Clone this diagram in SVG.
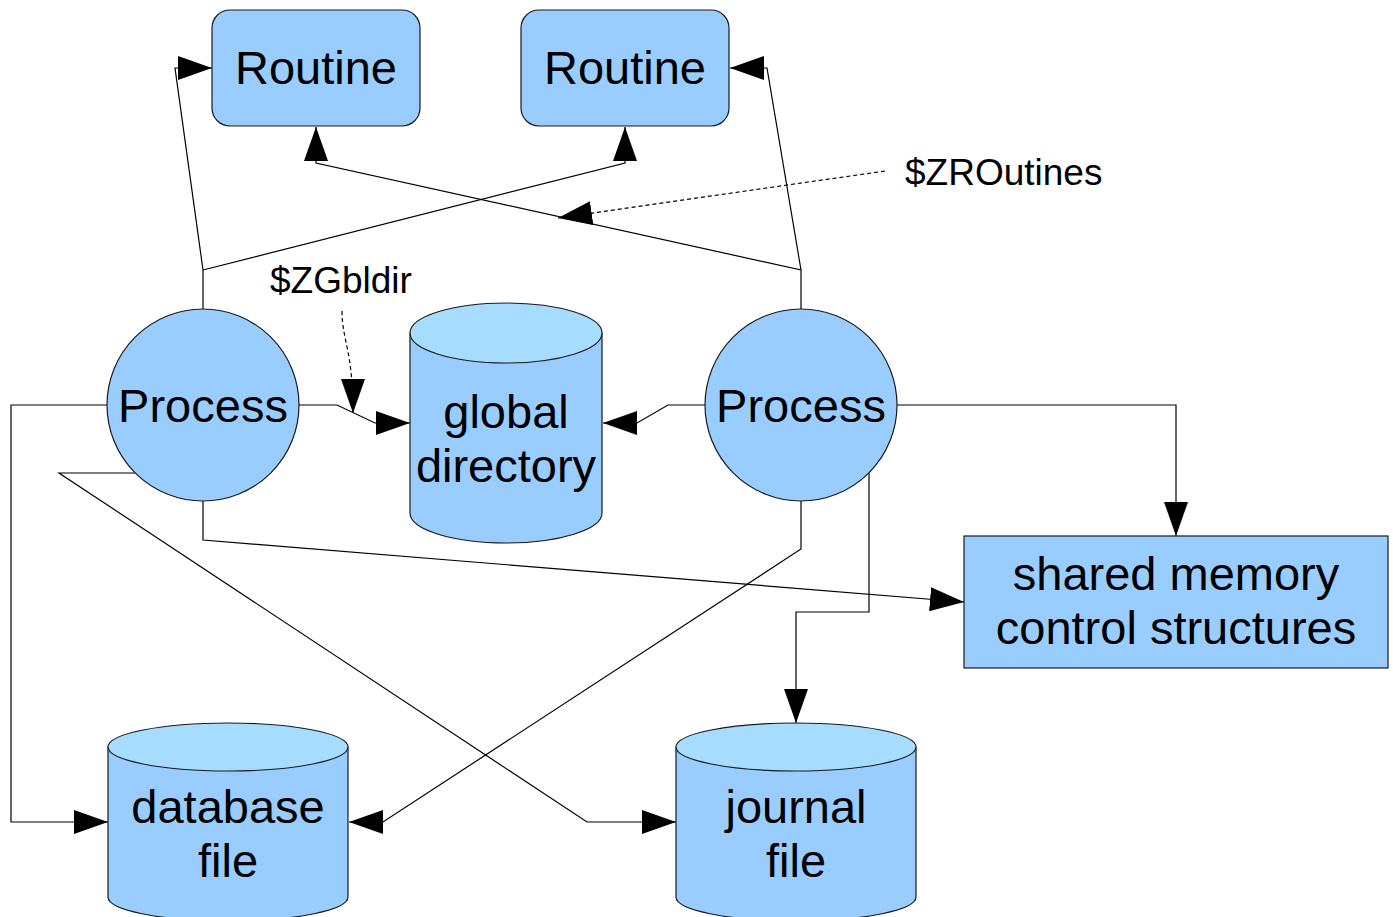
<svg xmlns="http://www.w3.org/2000/svg" width="1393" height="917" viewBox="0 0 1393 917">
<defs>
<style>
.shape{fill:#99ccff;stroke:#1a1a1a;stroke-width:1.2}
.top{fill:#a6ddff;stroke:#1a1a1a;stroke-width:1.2}
.lbl{font-family:"Liberation Sans",Arial,sans-serif;font-size:47px;fill:#000;text-anchor:middle}
.note{font-family:"Liberation Sans",Arial,sans-serif;font-size:37px;fill:#000}
.conn{fill:none;stroke:#000;stroke-width:1.2;marker-end:url(#arr)}
.dash{fill:none;stroke:#000;stroke-width:1.2;stroke-dasharray:4,3;marker-end:url(#arr)}
</style>
<marker id="arr" viewBox="0 0 34 24" refX="34" refY="12" markerWidth="34" markerHeight="24" markerUnits="userSpaceOnUse" orient="auto">
<path d="M0,0 L34,12 L0,24 z" fill="#000"/>
</marker>
</defs>
<rect width="1393" height="917" fill="#fff"/>
<g id="connectors">
<polyline class="conn" points="203,309 203,270 175,68 212,68"/>
<polyline class="conn" points="203,270 625,163 625,127"/>
<polyline class="conn" points="801,309 801,270 316,163 316,127"/>
<polyline class="conn" points="801,270 767,68 730,68"/>
<polyline class="conn" points="299,405 337,405 375,423 410,423"/>
<polyline class="conn" points="705,405 668,405 637,423 603,423"/>
<polyline class="conn" points="897,405 1176,405 1176,536"/>
<polyline class="conn" points="107,405 11,405 11,822 108,822"/>
<polyline class="conn" points="135,473 59,473 587,822 676,822"/>
<polyline class="conn" points="203,501 203,540 964,602"/>
<polyline class="conn" points="801,501 801,549 383,822 349,822"/>
<polyline class="conn" points="869,473 869,612 796,612 796,723"/>
<path class="dash" d="M885,171 L558,218"/>
<path class="dash" d="M342,311 C342,340 353,350 353,413"/>
</g>
<g id="routine1">
<rect class="shape" x="212" y="10" width="208" height="116" rx="18"/>
<text class="lbl" x="316" y="84">Routine</text>
</g>
<g id="routine2">
<rect class="shape" x="521" y="10" width="208" height="116" rx="18"/>
<text class="lbl" x="625" y="84">Routine</text>
</g>
<g id="process1">
<circle class="shape" cx="203" cy="405" r="96"/>
<text class="lbl" x="203" y="422">Process</text>
</g>
<g id="process2">
<circle class="shape" cx="801" cy="405" r="96"/>
<text class="lbl" x="801" y="422">Process</text>
</g>
<g id="globaldir">
<path class="shape" d="M410,333 L410,513 A96,30 0 0 0 602,513 L602,333"/>
<ellipse class="top" cx="506" cy="333" rx="96" ry="30"/>
<text class="lbl" x="506" y="428">global</text>
<text class="lbl" x="506" y="482">directory</text>
</g>
<g id="shm">
<rect class="shape" x="964" y="536" width="424" height="132"/>
<text class="lbl" x="1176" y="590">shared memory</text>
<text class="lbl" x="1176" y="644">control structures</text>
</g>
<g id="dbfile">
<path class="shape" d="M108,747 L108,897 A120,24 0 0 0 348,897 L348,747"/>
<ellipse class="top" cx="228" cy="747" rx="120" ry="24"/>
<text class="lbl" x="228" y="823">database</text>
<text class="lbl" x="228" y="877">file</text>
</g>
<g id="jnlfile">
<path class="shape" d="M676,747 L676,897 A120,24 0 0 0 916,897 L916,747"/>
<ellipse class="top" cx="796" cy="747" rx="120" ry="24"/>
<text class="lbl" x="796" y="823">journal</text>
<text class="lbl" x="796" y="877">file</text>
</g>
<g id="labels">
<text class="note" x="270" y="293">$ZGbldir</text>
<text class="note" x="905" y="185">$ZROutines</text>
</g>
</svg>
